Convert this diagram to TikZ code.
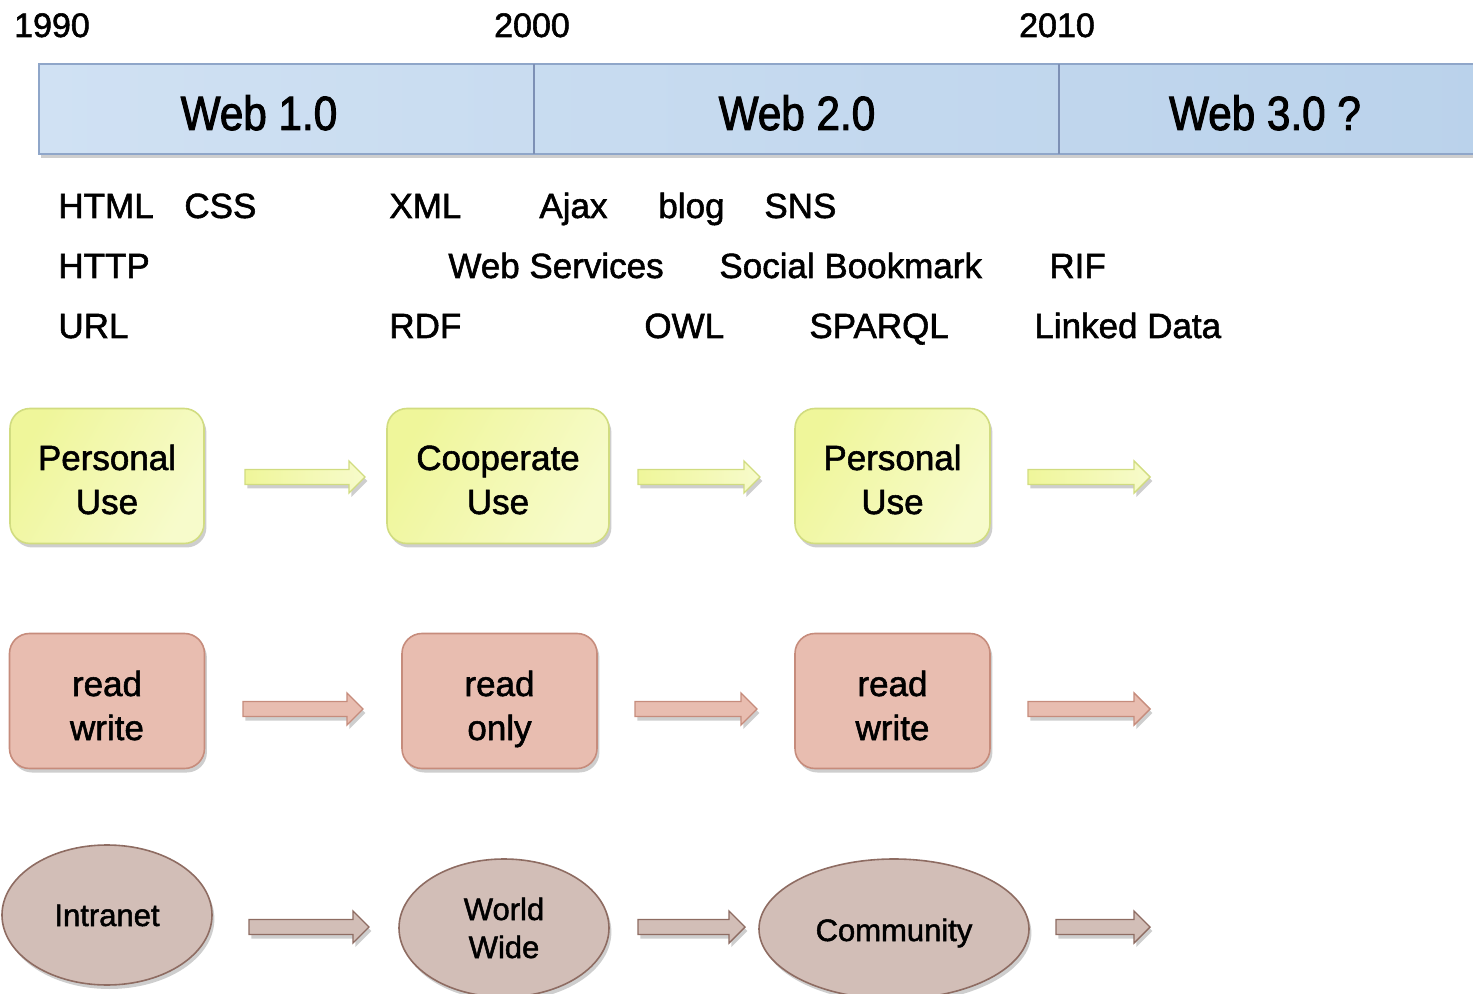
\documentclass[tikz,border=0pt]{standalone}
\usepackage{fontspec}
\setmainfont{Liberation Sans}[FakeBold=1.6]
\newfontfamily\eraface{Liberation Sans}[FakeBold=2,FakeStretch=0.88]
\usetikzlibrary{shapes.geometric,shadows}

\definecolor{barL}{HTML}{D0E1F3}
\definecolor{barR}{HTML}{BAD2EB}
\definecolor{barEdge}{HTML}{8FA6C9}
\definecolor{barDiv}{HTML}{7D90B5}
\definecolor{ylwA}{HTML}{EFF69A}
\definecolor{ylwB}{HTML}{F7FBCB}
\definecolor{ylwEdge}{HTML}{D1DC80}
\definecolor{salA}{HTML}{E8BDB0}
\definecolor{salM}{HTML}{DFA391}
\definecolor{salEdge}{HTML}{C68C7C}
\definecolor{tauA}{HTML}{D2BEB7}
\definecolor{tauM}{HTML}{BA9B91}
\definecolor{tauEdge}{HTML}{8E6C62}

\tikzset{
  softshadow/.style={drop shadow={shadow xshift=1.2pt,shadow yshift=-2pt,opacity=.35,fill=black!55}},
  year/.style={font=\fontsize{17}{20}\selectfont,anchor=base,inner sep=0pt},
  era/.style={font=\eraface\fontsize{24}{28}\selectfont,anchor=base,inner sep=0pt},
  tech/.style={font=\fontsize{17.5}{21}\selectfont,anchor=base west,inner sep=0pt},
  boxline/.style={font=\fontsize{17.5}{21}\selectfont,anchor=base,inner sep=0pt},
  blobline/.style={font=\fontsize{15.5}{19}\selectfont,anchor=base,inner sep=0pt},
  usebox/.style={draw=ylwEdge,line width=0.8pt,rounded corners=10pt,
    left color=ylwA,right color=ylwB,shading angle=60,
    minimum height=67.5pt,inner sep=0pt,softshadow},
  rwbox/.style={draw=salEdge,line width=0.8pt,rounded corners=10pt,
    left color=salA,middle color=salM,right color=salA,shading angle=70,
    minimum width=97.5pt,minimum height=67.5pt,inner sep=0pt,softshadow},
  netblob/.style={ellipse,draw=tauEdge,line width=0.8pt,
    left color=tauA,middle color=tauM,right color=tauA,shading angle=70,
    inner sep=0pt,softshadow},
  ylwarrow/.style={draw=ylwEdge,line width=0.7pt,left color=ylwA,right color=ylwB,softshadow},
  salarrow/.style={draw=salEdge,line width=0.7pt,left color=salA,middle color=salM,right color=salA,softshadow},
  tauarrow/.style={draw=tauEdge,line width=0.7pt,left color=tauA,middle color=tauM,right color=tauA,softshadow}
}

% block arrow: #1 start x, #2 tip x, #3 centre y, #4 style
\newcommand\blockarr[4]{%
  \path[#4] (#1,#3-7.5) -- (#2-16,#3-7.5) -- (#2-16,#3-16) -- (#2,#3)
    -- (#2-16,#3+16) -- (#2-16,#3+7.5) -- (#1,#3+7.5) -- cycle;}

\begin{document}
\begin{tikzpicture}[x=0.5pt,y=-0.5pt]
\clip (0,0) rectangle (1473,994);

% timeline bar
\path[draw=barEdge,line width=0.8pt,left color=barL,right color=barR,softshadow]
  (39,64) rectangle (1490,154);
\draw[barDiv,line width=0.8pt] (534,64) -- (534,154);
\draw[barDiv,line width=0.8pt] (1059,64) -- (1059,154);

% years
\node[year] (y1990) at (52,37) {1990};
\node[year] (y2000) at (532,37) {2000};
\node[year] (y2010) at (1057,37) {2010};

% eras
\node[era] (w1) at (259,130) {Web 1.0};
\node[era] (w2) at (797,130) {Web 2.0};
\node[era] (w3) at (1265,130) {Web 3.0 ?};

% technologies
\node[tech] (html)   at (58,218)   {HTML};
\node[tech] (css)    at (184,218)  {CSS};
\node[tech] (xml)    at (389,218)  {XML};
\node[tech] (ajax)   at (539,218)  {Ajax};
\node[tech] (blog)   at (658,218)  {blog};
\node[tech] (sns)    at (764,218)  {SNS};
\node[tech] (http)   at (58,278)   {HTTP};
\node[tech] (wsvc)   at (448,278)  {Web Services};
\node[tech] (sbm)    at (719,278)  {Social Bookmark};
\node[tech] (rif)    at (1049,278) {RIF};
\node[tech] (url)    at (58,338)   {URL};
\node[tech] (rdf)    at (389,338)  {RDF};
\node[tech] (owl)    at (644,338)  {OWL};
\node[tech] (sparql) at (809,338)  {SPARQL};
\node[tech] (lod)    at (1034,338) {Linked Data};

% usage row
\node[usebox,minimum width=97pt]   (use1) at (107,476) {};
\node[usebox,minimum width=111pt]  (use2) at (498,476) {};
\node[usebox,minimum width=97.5pt] (use3) at (892.5,476) {};
\foreach \b/\t in {use1/Personal,use2/Cooperate,use3/Personal}{
  \node[boxline] at ([yshift=3pt]\b.center) {\t};
  \node[boxline] at ([yshift=-19pt]\b.center) {Use};
}
\blockarr{245}{365}{477}{ylwarrow}
\blockarr{638}{760}{477}{ylwarrow}
\blockarr{1028}{1150}{477}{ylwarrow}

% read/write row
\node[rwbox] (rw1) at (107,701) {};
\node[rwbox] (rw2) at (499.5,701) {};
\node[rwbox] (rw3) at (892.5,701) {};
\foreach \b/\t in {rw1/write,rw2/only,rw3/write}{
  \node[boxline] at ([yshift=2.5pt]\b.center) {read};
  \node[boxline] at ([yshift=-19.5pt]\b.center) {\t};
}
\blockarr{243}{363}{709}{salarrow}
\blockarr{635}{757}{709}{salarrow}
\blockarr{1028}{1150}{709}{salarrow}

% network row
\node[netblob,minimum width=105pt,minimum height=70pt] (net1) at (107,915) {};
\node[netblob,minimum width=105pt,minimum height=69pt] (net2) at (504,928) {};
\node[netblob,minimum width=135pt,minimum height=70pt] (net3) at (894,929) {};
\node[blobline] at ([yshift=-5.5pt]net1.center) {Intranet};
\node[blobline] at ([yshift=4pt]net2.center) {World};
\node[blobline] at ([yshift=-15pt]net2.center) {Wide};
\node[blobline] at ([yshift=-6pt]net3.center) {Community};
\blockarr{249}{369}{927}{tauarrow}
\blockarr{638}{745}{927}{tauarrow}
\blockarr{1056}{1150}{927}{tauarrow}
\end{tikzpicture}
\end{document}
